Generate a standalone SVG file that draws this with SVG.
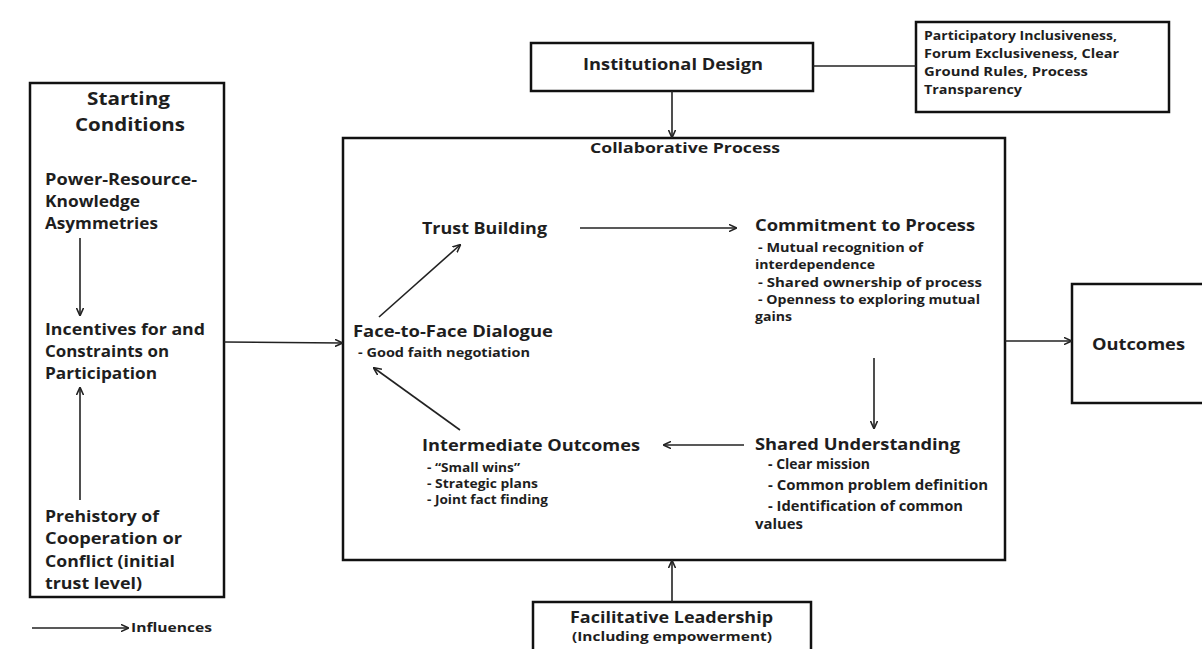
<svg xmlns="http://www.w3.org/2000/svg" width="1202" height="649" viewBox="0 0 1202 649">
<defs>
<marker id="ah" viewBox="0 0 10 10" refX="9" refY="5" markerWidth="8" markerHeight="8" orient="auto" markerUnits="userSpaceOnUse">
<path d="M0,0.5 L10,5 L0,9.5" fill="none" stroke="#222" stroke-width="2"/>
</marker>
<style>
.box{fill:#fff;stroke:#111;stroke-width:2.5}
.t{font-family:"Open Sans","Liberation Sans",sans-serif;font-weight:bold;fill:#1e1e1e}
.h{font-size:16px}
.b{font-size:16px}
.s{font-size:12.5px}
.m{font-size:13.5px}
.c{stroke:#222;stroke-width:1.6;fill:none}
.ca{stroke:#222;stroke-width:1.6;fill:none;marker-end:url(#ah)}
</style>
</defs>
<rect width="1202" height="649" fill="#fff"/>
<g id="starting-conditions">
<rect class="box" x="30" y="83" width="194" height="514"/>
<text class="t" x="87" y="105" font-size="18.5" textLength="83" lengthAdjust="spacingAndGlyphs">Starting</text>
<text class="t" x="75" y="131" font-size="18.5" textLength="110" lengthAdjust="spacingAndGlyphs">Conditions</text>
<text class="t b" x="45" y="185" textLength="152" lengthAdjust="spacingAndGlyphs">Power-Resource-</text>
<text class="t b" x="45" y="207" textLength="95" lengthAdjust="spacingAndGlyphs">Knowledge</text>
<text class="t b" x="45" y="229" textLength="113" lengthAdjust="spacingAndGlyphs">Asymmetries</text>
<text class="t b" x="45" y="335" textLength="160" lengthAdjust="spacingAndGlyphs">Incentives for and</text>
<text class="t b" x="45" y="357" textLength="124" lengthAdjust="spacingAndGlyphs">Constraints on</text>
<text class="t b" x="45" y="379" textLength="112" lengthAdjust="spacingAndGlyphs">Participation</text>
<text class="t b" x="45" y="522" textLength="114" lengthAdjust="spacingAndGlyphs">Prehistory of</text>
<text class="t b" x="45" y="544" textLength="137" lengthAdjust="spacingAndGlyphs">Cooperation or</text>
<text class="t b" x="45" y="567" textLength="130" lengthAdjust="spacingAndGlyphs">Conflict (initial</text>
<text class="t b" x="45" y="589" textLength="97" lengthAdjust="spacingAndGlyphs">trust level)</text>
</g>
<g id="legend">
<line class="ca" x1="32" y1="628" x2="128" y2="628"/>
<text class="t" x="131" y="632" font-size="12" textLength="81" lengthAdjust="spacingAndGlyphs">Influences</text>
</g>
<g id="institutional-design">
<rect class="box" x="531" y="43" width="282" height="48"/>
<text class="t h" x="583" y="70" textLength="180" lengthAdjust="spacingAndGlyphs">Institutional Design</text>
</g>
<g id="design-details">
<rect class="box" x="916" y="22" width="253" height="90"/>
<text class="t s" x="924" y="40" textLength="193" lengthAdjust="spacingAndGlyphs">Participatory Inclusiveness,</text>
<text class="t s" x="924" y="58" textLength="195" lengthAdjust="spacingAndGlyphs">Forum Exclusiveness, Clear</text>
<text class="t s" x="924" y="76" textLength="164" lengthAdjust="spacingAndGlyphs">Ground Rules, Process</text>
<text class="t s" x="924" y="94" textLength="98" lengthAdjust="spacingAndGlyphs">Transparency</text>
</g>
<g id="collaborative-process">
<rect class="box" x="343" y="138" width="662" height="422"/>
<text class="t" x="590" y="153" font-size="15" textLength="190" lengthAdjust="spacingAndGlyphs">Collaborative Process</text>
</g>
<g id="trust-building">
<text class="t h" x="422" y="234" textLength="125" lengthAdjust="spacingAndGlyphs">Trust Building</text>
</g>
<g id="commitment">
<text class="t h" x="755" y="231" textLength="220" lengthAdjust="spacingAndGlyphs">Commitment to Process</text>
<text class="t s" x="758" y="252" textLength="165" lengthAdjust="spacingAndGlyphs">- Mutual recognition of</text>
<text class="t s" x="755" y="269" textLength="120" lengthAdjust="spacingAndGlyphs">interdependence</text>
<text class="t s" x="758" y="287" textLength="224" lengthAdjust="spacingAndGlyphs">- Shared ownership of process</text>
<text class="t s" x="758" y="304" textLength="222" lengthAdjust="spacingAndGlyphs">- Openness to exploring mutual</text>
<text class="t s" x="755" y="321" textLength="37" lengthAdjust="spacingAndGlyphs">gains</text>
</g>
<g id="face-to-face">
<text class="t h" x="353" y="337" textLength="200" lengthAdjust="spacingAndGlyphs">Face-to-Face Dialogue</text>
<text class="t s" x="358" y="357" textLength="172" lengthAdjust="spacingAndGlyphs">- Good faith negotiation</text>
</g>
<g id="shared-understanding">
<text class="t h" x="755" y="450" textLength="205" lengthAdjust="spacingAndGlyphs">Shared Understanding</text>
<text class="t m" x="768" y="469" textLength="102" lengthAdjust="spacingAndGlyphs">- Clear mission</text>
<text class="t m" x="768" y="490" textLength="220" lengthAdjust="spacingAndGlyphs">- Common problem definition</text>
<text class="t m" x="768" y="511" textLength="195" lengthAdjust="spacingAndGlyphs">- Identification of common</text>
<text class="t m" x="755" y="529" textLength="48" lengthAdjust="spacingAndGlyphs">values</text>
</g>
<g id="intermediate-outcomes">
<text class="t h" x="422" y="451" textLength="218" lengthAdjust="spacingAndGlyphs">Intermediate Outcomes</text>
<text class="t s" x="427" y="472" textLength="93" lengthAdjust="spacingAndGlyphs">- “Small wins”</text>
<text class="t s" x="427" y="488" textLength="111" lengthAdjust="spacingAndGlyphs">- Strategic plans</text>
<text class="t s" x="427" y="504" textLength="121" lengthAdjust="spacingAndGlyphs">- Joint fact finding</text>
</g>
<g id="outcomes">
<rect class="box" x="1072" y="284" width="140" height="119"/>
<text class="t h" x="1092" y="350" textLength="93" lengthAdjust="spacingAndGlyphs">Outcomes</text>
</g>
<g id="facilitative-leadership">
<rect class="box" x="533" y="602" width="278" height="60"/>
<text class="t h" x="570" y="623" textLength="203" lengthAdjust="spacingAndGlyphs">Facilitative Leadership</text>
<text class="t" x="572" y="641" font-size="13" font-weight="600" textLength="200" lengthAdjust="spacingAndGlyphs">(Including empowerment)</text>
</g>
<g id="connectors">
<line class="ca" x1="80" y1="238" x2="80" y2="315"/>
<line class="ca" x1="80" y1="500" x2="80" y2="388"/>
<line class="ca" x1="224" y1="342" x2="342" y2="343"/>
<line class="ca" x1="672" y1="91" x2="672" y2="137"/>
<line class="c" x1="813" y1="66" x2="916" y2="66"/>
<line class="ca" x1="1005" y1="341" x2="1071" y2="341"/>
<line class="ca" x1="672" y1="602" x2="672" y2="561"/>
<line class="ca" x1="379" y1="317" x2="460" y2="245"/>
<line class="ca" x1="580" y1="228" x2="736" y2="228"/>
<line class="ca" x1="874" y1="358" x2="874" y2="428"/>
<line class="ca" x1="744" y1="445" x2="664" y2="445"/>
<line class="ca" x1="460" y1="430" x2="374" y2="368"/>
</g>
</svg>
